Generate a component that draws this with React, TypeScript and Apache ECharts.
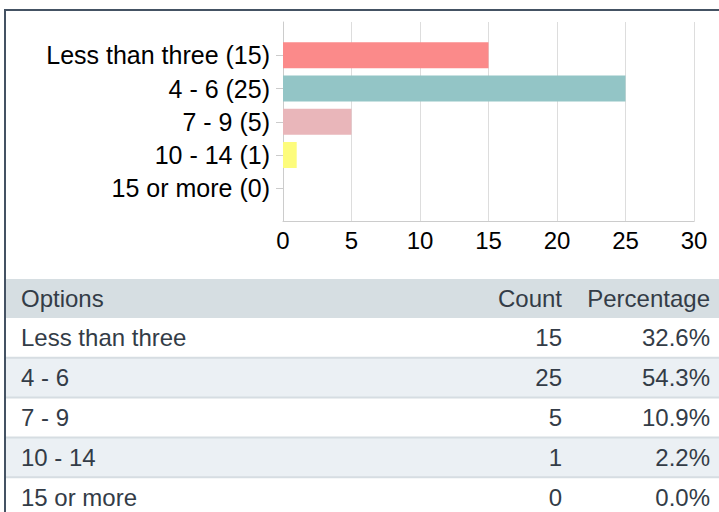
import React, { useEffect, useRef } from "react";
import * as echarts from "echarts";

const options = ["Less than three", "4 - 6", "7 - 9", "10 - 14", "15 or more"];
const counts = [15, 25, 5, 1, 0];
const percentages = ["32.6%", "54.3%", "10.9%", "2.2%", "0.0%"];
const barColors = ["#fb8a8a", "#93c5c6", "#e9b6ba", "#fdfc7c", "#cccccc"];
const xTicks = [0, 5, 10, 15, 20, 25, 30];
const tableHeaders = ["Options", "Count", "Percentage"];

const FONT = "Arial, 'Liberation Sans', Helvetica, sans-serif";

export default function App() {
  const ref = useRef<HTMLDivElement>(null);

  useEffect(() => {
    if (!ref.current) return;
    const chart = echarts.init(ref.current, null, { renderer: "svg" });

    const labels = options.map((o, i) => `${o} (${counts[i]})`);
    const cats = ["", ...labels, ""];
    const data: any[] = ["-" as any];
    counts.forEach((c, i) => data.push({ value: c, itemStyle: { color: barColors[i] } }));
    data.push("-");

    const textColor = "#333c47";
    const headerTop = 279;
    const headerH = 39;
    const rowH = 39.8;
    const tableLeft = 6;
    const graphics: any[] = [];

    graphics.push({
      type: "rect",
      shape: { x: tableLeft, y: headerTop, width: 719 - tableLeft, height: headerH },
      style: { fill: "#d6dee2" },
      silent: true,
    });
    const hy = headerTop + headerH / 2;
    graphics.push({ type: "text", x: 21, y: hy, style: { text: tableHeaders[0], font: `24px ${FONT}`, fill: textColor, align: "left", verticalAlign: "middle" } });
    graphics.push({ type: "text", x: 562, y: hy, style: { text: tableHeaders[1], font: `24px ${FONT}`, fill: textColor, align: "right", verticalAlign: "middle" } });
    graphics.push({ type: "text", x: 710, y: hy, style: { text: tableHeaders[2], font: `24px ${FONT}`, fill: textColor, align: "right", verticalAlign: "middle" } });

    options.forEach((o, i) => {
      const top = headerTop + headerH + i * rowH;
      graphics.push({
        type: "rect",
        shape: { x: tableLeft, y: top, width: 719 - tableLeft, height: rowH },
        style: { fill: i % 2 === 1 ? "#ebf0f4" : "#ffffff" },
        silent: true,
      });
      if (i > 0) {
        graphics.push({
          type: "rect",
          shape: { x: tableLeft, y: top - 1, width: 719 - tableLeft, height: 2 },
          style: { fill: "#d6dde2" },
          silent: true,
        });
      }
      const cy = top + rowH / 2;
      graphics.push({ type: "text", x: 21, y: cy, style: { text: o, font: `24px ${FONT}`, fill: textColor, align: "left", verticalAlign: "middle" } });
      graphics.push({ type: "text", x: 562, y: cy, style: { text: String(counts[i]), font: `24px ${FONT}`, fill: textColor, align: "right", verticalAlign: "middle" } });
      graphics.push({ type: "text", x: 710, y: cy, style: { text: percentages[i], font: `24px ${FONT}`, fill: textColor, align: "right", verticalAlign: "middle" } });
    });

    graphics.push({
      type: "rect",
      shape: { x: 5, y: 10, width: 800, height: 600 },
      style: { fill: "none", stroke: "#445263", lineWidth: 2 },
      silent: true,
    });

    chart.setOption({
      animation: false,
      backgroundColor: "#ffffff",
      grid: { left: 283, top: 22, width: 411, height: 199.5, containLabel: false },
      xAxis: {
        type: "value",
        min: xTicks[0],
        max: xTicks[xTicks.length - 1],
        interval: xTicks[1] - xTicks[0],
        axisLine: { show: true, lineStyle: { color: "#cccccc", width: 1 } },
        axisTick: { show: false },
        splitLine: { show: true, lineStyle: { color: "#dddddd", width: 1 } },
        axisLabel: { color: "#000000", fontSize: 24, fontFamily: FONT, margin: 7 },
      },
      yAxis: {
        type: "category",
        data: cats,
        inverse: true,
        boundaryGap: false,
        axisLine: { show: true, lineStyle: { color: "#cccccc", width: 1 } },
        axisTick: {
          show: true,
          length: 7,
          interval: (idx: number) => idx > 0 && idx < cats.length - 1,
          lineStyle: { color: "#cccccc" },
        },
        axisLabel: {
          color: "#000000",
          fontSize: 25,
          fontFamily: FONT,
          margin: 13,
          interval: 0,
        },
        splitLine: { show: false },
      },
      series: [
        {
          type: "bar",
          data,
          barWidth: 26,
          silent: true,
        },
      ],
      graphic: { elements: graphics },
    });

    return () => chart.dispose();
  }, []);

  return (
    <div
      ref={ref}
      style={{ position: "fixed", left: 0, top: 0, width: 719, height: 512, background: "#fff" }}
    />
  );
}
